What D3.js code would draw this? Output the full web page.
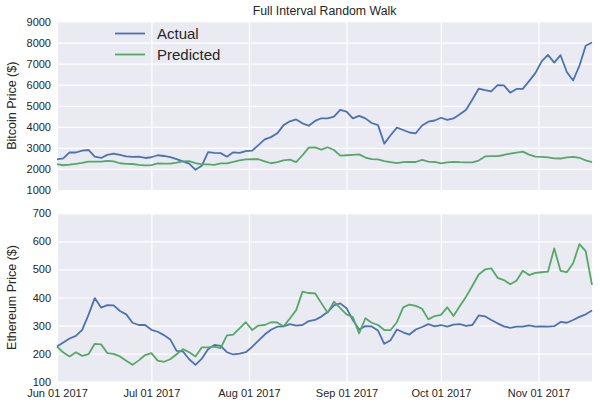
<!DOCTYPE html>
<html>
<head>
<meta charset="utf-8">
<script src="https://cdn.jsdelivr.net/npm/d3@7"></script>
<style>
  body { margin: 0; background: #fff; }
  svg { font-family: "Liberation Sans", Arial, sans-serif; }
</style>
</head>
<body>
<svg id="chart" width="600" height="408"></svg>
<script>
// sampled every 2 days starting Jun 01 2017
const startDate = new Date(2017, 5, 1);
const stepDays = 2;

const btcActual = [2458, 2505, 2790, 2780, 2870, 2900, 2590, 2520, 2670, 2730,
  2665, 2600, 2570, 2582, 2520, 2555, 2650, 2615, 2560, 2470,
  2360, 2250, 1960, 2150, 2800, 2760, 2750, 2582, 2790, 2760,
  2850, 2870, 3130, 3400, 3510, 3690, 4080, 4260, 4350, 4167,
  4050, 4280, 4405, 4405, 4482, 4800, 4720, 4400, 4520, 4400,
  4180, 4080, 3200, 3600, 3960, 3850, 3730, 3692, 4060, 4245,
  4300, 4430, 4330, 4400, 4600, 4810, 5300, 5810, 5740, 5680,
  5980, 5970, 5620, 5800, 5800, 6170, 6550, 7110, 7412, 7050,
  7400, 6600, 6200, 6900, 7850, 8000];

const btcPredicted = [2230, 2175, 2200, 2245, 2290, 2345, 2345, 2345, 2380, 2360,
  2270, 2240, 2235, 2195, 2165, 2185, 2268, 2255, 2255, 2295,
  2360, 2370, 2280, 2220, 2215, 2195, 2268, 2268, 2340, 2410,
  2458, 2460, 2460, 2360, 2270, 2320, 2410, 2445, 2320, 2650,
  3010, 3020, 2920, 3030, 2900, 2630, 2650, 2670, 2690, 2540,
  2465, 2450, 2370, 2325, 2280, 2325, 2340, 2330, 2430, 2345,
  2330, 2265, 2310, 2340, 2320, 2315, 2315, 2400, 2595, 2612,
  2610, 2662, 2730, 2775, 2820, 2680, 2580, 2570, 2552, 2500,
  2495, 2552, 2575, 2530, 2405, 2320];

const ethActual = [225, 240, 254, 263, 285, 338, 398, 364, 373, 372,
  352, 340, 310, 302, 302, 285, 278, 266, 250, 210,
  208, 180, 160, 182, 216, 231, 228, 205, 197, 200,
  205, 224, 246, 268, 285, 296, 297, 305, 300, 302,
  316, 320, 332, 348, 372, 379, 362, 320, 286, 298,
  297, 282, 235, 248, 286, 276, 268, 286, 295, 305,
  297, 302, 296, 303, 305, 299, 302, 336, 333, 320,
  308, 297, 292, 296, 296, 301, 296, 297, 296, 298,
  313, 310, 320, 331, 340, 354];

const ethPredicted = [225, 204, 190, 205, 192, 198, 235, 233, 202, 199,
  190, 175, 160, 176, 195, 202, 175, 171, 180, 198,
  216, 205, 190, 222, 222, 225, 220, 265, 268, 290,
  312, 284, 300, 302, 312, 311, 297, 325, 355, 421,
  416, 415, 380, 346, 385, 362, 340, 330, 272, 326,
  310, 302, 284, 284, 312, 365, 375, 370, 360, 322,
  334, 338, 365, 334, 370, 403, 442, 482, 500, 504,
  470, 462, 447, 460, 495, 480, 488, 490, 492, 575,
  495, 490, 522, 590, 565, 445];

const btcTicks = [1000, 2000, 3000, 4000, 5000, 6000, 7000, 8000, 9000];
const ethTicks = [100, 200, 300, 400, 500, 600, 700];
const monthTicks = [new Date(2017, 5, 1), new Date(2017, 6, 1), new Date(2017, 7, 1),
  new Date(2017, 8, 1), new Date(2017, 9, 1), new Date(2017, 10, 1)];

const dates = btcActual.map((d, i) => d3.timeDay.offset(startDate, i * stepDays));

const colors = { actual: '#4C72B0', predicted: '#55A868' };
const bg = '#EAEAF2';
const textColor = '#262626';

const svg = d3.select('#chart');
const left = 57, right = 592;

const x = d3.scaleTime()
  .domain([dates[0], dates[dates.length - 1]])
  .range([left, right]);

function panel(top, bottom, domain, ticks, actual, predicted, label, showX) {
  const y = d3.scaleLinear().domain(domain).range([bottom, top]);

  svg.append('rect')
    .attr('x', left).attr('y', top)
    .attr('width', right - left).attr('height', bottom - top)
    .attr('fill', bg);

  // grid
  svg.append('g')
    .attr('transform', `translate(${left},0)`)
    .call(d3.axisLeft(y).tickValues(ticks).tickSize(-(right - left)).tickFormat(''))
    .call(g => g.select('.domain').remove())
    .call(g => g.selectAll('line').attr('stroke', '#fff').attr('stroke-width', 1.2));

  svg.append('g')
    .attr('transform', `translate(0,${bottom})`)
    .call(d3.axisBottom(x).tickValues(monthTicks).tickSize(-(bottom - top)).tickFormat(''))
    .call(g => g.select('.domain').remove())
    .call(g => g.selectAll('line').attr('stroke', '#fff').attr('stroke-width', 1.2));

  // tick labels
  svg.append('g')
    .attr('transform', `translate(${left},0)`)
    .call(d3.axisLeft(y).tickValues(ticks).tickSize(0).tickPadding(6).tickFormat(d3.format('d')))
    .call(g => g.select('.domain').remove())
    .call(g => g.selectAll('text')
      .attr('fill', textColor).style('font-size', '11px')
      .style('font-family', '"Liberation Sans", Arial, sans-serif'));

  if (showX) {
    svg.append('g')
      .attr('transform', `translate(0,${bottom})`)
      .call(d3.axisBottom(x).tickValues(monthTicks).tickSize(0).tickPadding(8)
        .tickFormat(d3.timeFormat('%b %d %Y')))
      .call(g => g.select('.domain').remove())
      .call(g => g.selectAll('text')
        .attr('fill', textColor).style('font-size', '11px')
        .style('font-family', '"Liberation Sans", Arial, sans-serif'));
  }

  svg.append('text')
    .attr('transform', `translate(16,${(top + bottom) / 2}) rotate(-90)`)
    .attr('text-anchor', 'middle')
    .attr('fill', textColor)
    .style('font-size', '12.5px')
    .text(label);

  const line = d3.line()
    .x((d, i) => x(dates[i]))
    .y(d => y(d));

  svg.append('path')
    .datum(actual)
    .attr('fill', 'none')
    .attr('stroke', colors.actual)
    .attr('stroke-width', 1.8)
    .attr('stroke-linejoin', 'round')
    .attr('d', line);

  svg.append('path')
    .datum(predicted)
    .attr('fill', 'none')
    .attr('stroke', colors.predicted)
    .attr('stroke-width', 1.8)
    .attr('stroke-linejoin', 'round')
    .attr('d', line);
}

panel(21.5, 190, [1000, 9000], btcTicks, btcActual, btcPredicted, 'Bitcoin Price ($)', false);
panel(213.3, 381.7, [100, 700], ethTicks, ethActual, ethPredicted, 'Ethereum Price ($)', true);

// title
svg.append('text')
  .attr('x', (left + right) / 2)
  .attr('y', 15)
  .attr('text-anchor', 'middle')
  .attr('fill', textColor)
  .style('font-size', '12.3px')
  .text('Full Interval Random Walk');

// legend
const legendItems = [
  { name: 'Actual', color: colors.actual },
  { name: 'Predicted', color: colors.predicted }
];
const legend = svg.append('g');
legendItems.forEach((d, i) => {
  const ly = 33.5 + i * 21;
  legend.append('line')
    .attr('x1', 115).attr('x2', 145)
    .attr('y1', ly).attr('y2', ly)
    .attr('stroke', d.color).attr('stroke-width', 1.8);
  legend.append('text')
    .attr('x', 157).attr('y', ly)
    .attr('dy', '0.35em')
    .attr('fill', textColor)
    .style('font-size', '15px')
    .text(d.name);
});
</script>
</body>
</html>
